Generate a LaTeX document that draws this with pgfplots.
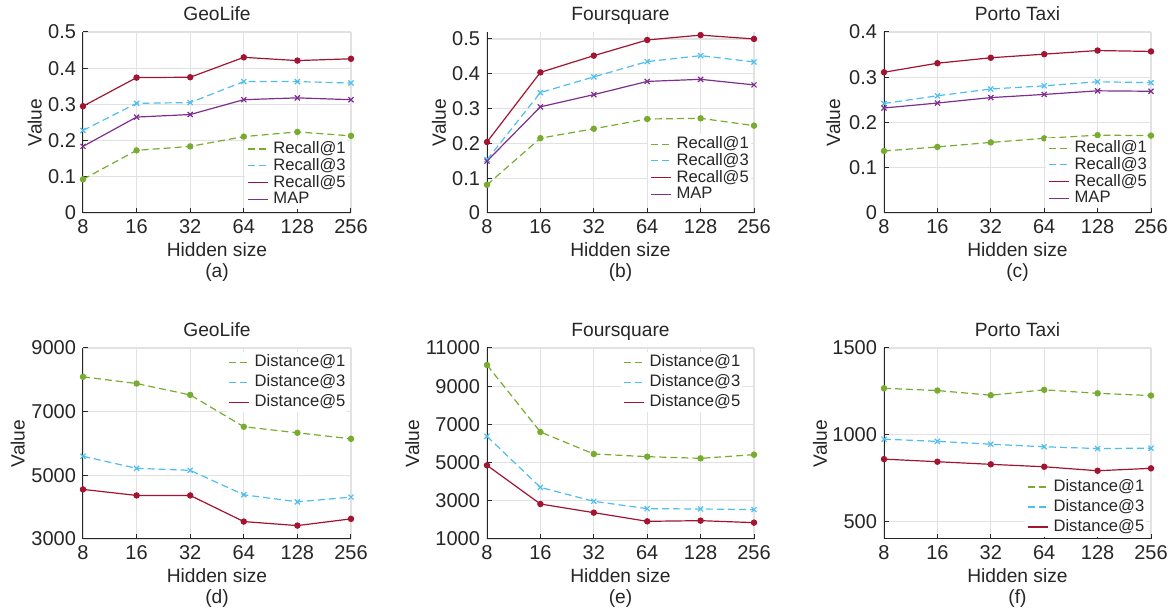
\documentclass[border=0pt]{standalone}
\usepackage{fontspec}
\setmainfont{Liberation Sans}
\usepackage{pgfplots}
\pgfplotsset{compat=1.18}
\definecolor{cg}{RGB}{119,172,48}
\definecolor{cb}{RGB}{77,190,238}
\definecolor{cr}{RGB}{162,20,47}
\definecolor{cp}{RGB}{126,47,142}
\definecolor{textc}{RGB}{38,38,38}
\definecolor{gridc}{RGB}{226,226,226}
\pgfplotsset{
  every axis title/.style={at={(axis description cs:0.5,1)}, anchor=base, yshift=5.5pt, inner sep=0pt, font=\fontsize{9.6}{11}\selectfont, text=textc},
  myax/.style={
    scale only axis, width=134pt,
    xmin=0, xmax=5, xtick={0,1,2,3,4,5}, xticklabels={8,16,32,64,128,256},
    axis x line*=bottom, axis y line*=left,
    axis line style={draw=textc, line width=0.5pt, -},
    grid=major, grid style={draw=gridc, line width=0.6pt},
    tick style={draw=textc, line width=0.5pt},
    tick align=inside, major tick length=2.5pt,
    scaled y ticks=false,
    /pgf/number format/assume math mode=true,
    /pgf/number format/1000 sep={},
    ticklabel style={font=\fontsize{10}{12}\selectfont, text=textc},
    xticklabel style={anchor=base, yshift=-10.5pt},
    xlabel={Hidden size}, ylabel={Value},
    label style={font=\fontsize{9.6}{11}\selectfont, text=textc},
    xlabel style={at={(axis description cs:0.5,0)}, anchor=base, yshift=-22pt, inner sep=0pt},
    legend style={draw=none, fill=white, inner sep=1pt, anchor=north west,
      font=\fontsize{8.3}{9}\selectfont, text=textc,
      nodes={inner sep=0pt, text height=6.2pt, text depth=1.5pt},
      /tikz/every odd column/.style={column sep=2.5pt}},
    legend cell align=left,
    legend image code/.code={\draw[##1] (0pt,0pt) -- (10pt,0pt);},
  },
  g1/.style={color=cg, line width=0.6pt, dash pattern=on 3.5pt off 2pt, mark=*, mark size=1.3pt, mark options={solid}},
  b3/.style={color=cb, line width=0.6pt, dash pattern=on 3.5pt off 2pt, mark=x, mark size=1.8pt, mark options={solid}},
  r5/.style={color=cr, line width=0.6pt, mark=*, mark size=1.3pt},
  pm/.style={color=cp, line width=0.6pt, mark=x, mark size=1.8pt},
  sub/.style={extra description/.code={\node[anchor=base, inner sep=0pt, font=\fontsize{9.6}{11}\selectfont, text=textc] at (0.5,0) [yshift=-32.5pt] {#1};}},
}
\begin{document}
\begin{tikzpicture}
\path[use as bounding box] (0,0) rectangle (587.5pt,307.5pt);
% (a)
\begin{axis}[myax, at={(41.5pt,201pt)}, anchor=south west, height=90.5pt,
  ymin=0, ymax=0.5, ytick={0,0.1,0.2,0.3,0.4,0.5}, title={GeoLife}, sub={(a)},
  ylabel style={at={(axis description cs:-0.18,0.5)}, anchor=center},
  legend style={at={(0.604,0.409)}, /tikz/row sep=0.65pt}]
\addplot[g1] coordinates {(0,0.093) (1,0.173) (2,0.184) (3,0.211) (4,0.224) (5,0.213)};
\addplot[b3] coordinates {(0,0.228) (1,0.303) (2,0.305) (3,0.363) (4,0.363) (5,0.359)};
\addplot[r5] coordinates {(0,0.295) (1,0.374) (2,0.375) (3,0.430) (4,0.421) (5,0.426)};
\addplot[pm] coordinates {(0,0.184) (1,0.265) (2,0.272) (3,0.313) (4,0.318) (5,0.313)};
\legend{Recall@1,Recall@3,Recall@5,MAP}
\end{axis}
% (b)
\begin{axis}[myax, at={(243.5pt,201pt)}, anchor=south west, height=90.5pt, width=133.5pt,
  ymin=0, ymax=0.52, ytick={0,0.1,0.2,0.3,0.4,0.5}, title={Foursquare}, sub={(b)},
  ylabel style={at={(axis description cs:-0.18,0.5)}, anchor=center},
  legend style={at={(0.603,0.436)}, /tikz/row sep=0.65pt}]
\addplot[g1] coordinates {(0,0.081) (1,0.215) (2,0.242) (3,0.270) (4,0.272) (5,0.251)};
\addplot[b3] coordinates {(0,0.153) (1,0.346) (2,0.391) (3,0.435) (4,0.452) (5,0.434)};
\addplot[r5] coordinates {(0,0.204) (1,0.404) (2,0.452) (3,0.497) (4,0.511) (5,0.500)};
\addplot[pm] coordinates {(0,0.149) (1,0.305) (2,0.340) (3,0.378) (4,0.384) (5,0.368)};
\legend{Recall@1,Recall@3,Recall@5,MAP}
\end{axis}
% (c)
\begin{axis}[myax, at={(442pt,201pt)}, anchor=south west, height=90.5pt, width=133.5pt,
  ymin=0, ymax=0.4, ytick={0,0.1,0.2,0.3,0.4}, title={Porto Taxi}, sub={(c)},
  ylabel style={at={(axis description cs:-0.19,0.5)}, anchor=center},
  legend style={at={(0.607,0.414)}, /tikz/row sep=0.65pt}]
\addplot[g1] coordinates {(0,0.137) (1,0.146) (2,0.156) (3,0.165) (4,0.172) (5,0.171)};
\addplot[b3] coordinates {(0,0.242) (1,0.259) (2,0.274) (3,0.281) (4,0.290) (5,0.288)};
\addplot[r5] coordinates {(0,0.311) (1,0.331) (2,0.343) (3,0.351) (4,0.359) (5,0.357)};
\addplot[pm] coordinates {(0,0.232) (1,0.243) (2,0.255) (3,0.262) (4,0.270) (5,0.269)};
\legend{Recall@1,Recall@3,Recall@5,MAP}
\end{axis}
% (d)
\begin{axis}[myax, at={(41.5pt,38pt)}, anchor=south west, height=95.5pt,
  ymin=3000, ymax=9000, ytick={3000,5000,7000,9000}, title={GeoLife}, sub={(d)},
  ylabel style={at={(axis description cs:-0.243,0.5)}, anchor=center},
  legend style={at={(0.534,0.979)}, /tikz/row sep=2.3pt}]
\addplot[g1] coordinates {(0,8095) (1,7884) (2,7526) (3,6526) (4,6336) (5,6147)};
\addplot[b3] coordinates {(0,5599) (1,5220) (2,5157) (3,4389) (4,4168) (5,4315)};
\addplot[r5] coordinates {(0,4558) (1,4368) (2,4368) (3,3547) (4,3421) (5,3632)};
\legend{Distance@1,Distance@3,Distance@5}
\end{axis}
% (e)
\begin{axis}[myax, at={(243.5pt,38pt)}, anchor=south west, height=95.5pt, width=133.5pt,
  ymin=1000, ymax=11000, ytick={1000,3000,5000,7000,9000,11000}, title={Foursquare}, sub={(e)},
  ylabel style={at={(axis description cs:-0.28,0.5)}, anchor=center},
  legend style={at={(0.502,0.979)}, /tikz/row sep=2.3pt}]
\addplot[g1] coordinates {(0,10110) (1,6602) (2,5450) (3,5310) (4,5223) (5,5415)};
\addplot[b3] coordinates {(0,6375) (1,3704) (2,2972) (3,2588) (4,2571) (5,2537)};
\addplot[r5] coordinates {(0,4857) (1,2832) (2,2379) (3,1925) (4,1960) (5,1856)};
\legend{Distance@1,Distance@3,Distance@5}
\end{axis}
% (f)
\begin{axis}[myax, at={(442pt,38pt)}, anchor=south west, height=95.5pt, width=133.5pt,
  ymin=400, ymax=1500, ytick={500,1000,1500}, title={Porto Taxi}, sub={(f)},
  ylabel style={at={(axis description cs:-0.24,0.5)}, anchor=center},
  legend style={at={(0.528,0.325)}, /tikz/row sep=2.3pt}]
\addplot[g1] coordinates {(0,1268) (1,1255) (2,1228) (3,1259) (4,1239) (5,1226)};
\addplot[b3] coordinates {(0,975) (1,962) (2,946) (3,931) (4,921) (5,923)};
\addplot[r5] coordinates {(0,860) (1,845) (2,830) (3,816) (4,793) (5,807)};
\legend{Distance@1,Distance@3,Distance@5}
\end{axis}
\end{tikzpicture}
\end{document}
